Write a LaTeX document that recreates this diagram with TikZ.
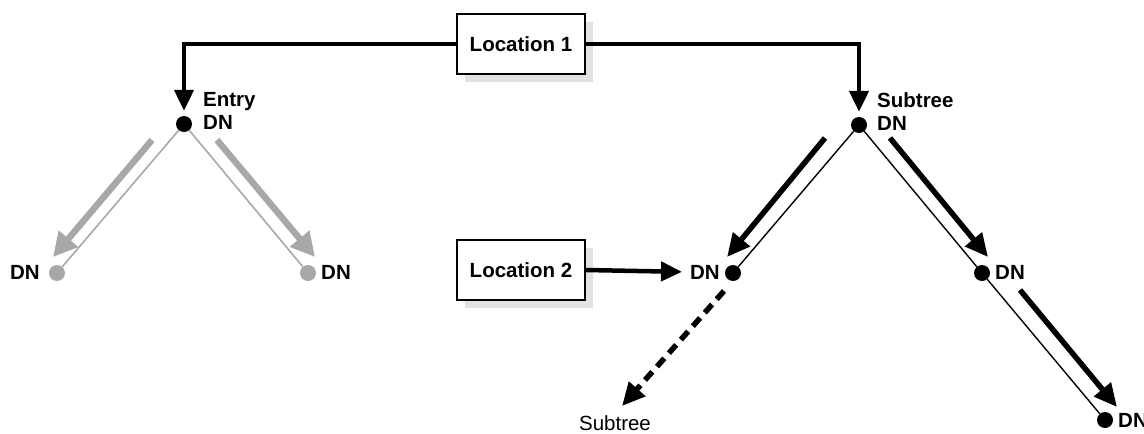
\documentclass[tikz,border=0pt]{standalone}
\usepackage{fontspec}
\setmainfont{Liberation Sans}
\usetikzlibrary{arrows.meta,shadows}
\definecolor{lgray}{HTML}{A8A8A8}
\definecolor{shadowgray}{HTML}{E2E2E2}
\tikzset{
  locbox/.style={draw, line width=2pt, fill=white, minimum width=128pt, minimum height=60pt,
    font=\fontsize{20.5}{23}\selectfont\bfseries,
    drop shadow={shadow xshift=8pt, shadow yshift=-8pt, fill=shadowgray, opacity=1}},
  dot/.style={circle, fill=black, inner sep=0pt, minimum size=16pt},
  gdot/.style={circle, fill=lgray, inner sep=0pt, minimum size=16pt},
  lbl/.style={inner sep=0pt, font=\fontsize{20.5}{23}\selectfont\bfseries, align=left},
  plainlbl/.style={inner sep=0pt, font=\fontsize{20.5}{23}\selectfont},
  conn/.style={line width=4.5pt, -{Triangle[length=21pt,width=19pt]}},
  thin/.style={line width=1.4pt},
  gthin/.style={line width=1.6pt, lgray},
  para/.style={line width=5.5pt, -{Triangle[length=23pt,width=21pt]}},
  gpara/.style={line width=6.5pt, lgray, -{Triangle[length=24pt,width=24pt]}},
  dashconn/.style={line width=5.5pt, dash pattern=on 11pt off 7pt, -{Triangle[length=23pt,width=21pt]}}
}
\begin{document}
\begin{tikzpicture}[x=1pt,y=-1pt]
\useasboundingbox (0,0) rectangle (1144,434);

% boxes
\node[locbox] (L1) at (521,44) {Location 1};
\node[locbox] (L2) at (521,270) {Location 2};

% dots
\node[dot] (entry) at (184,124) {};
\node[gdot] (gl) at (57,273) {};
\node[gdot] (gr) at (308,273) {};
\node[dot] (sub) at (859,125) {};
\node[dot] (rl) at (733,273) {};
\node[dot] (rr) at (982,273) {};
\node[dot] (rb) at (1105,420) {};

% labels
\node[lbl, anchor=west] (entrylbl) at (203,111) {Entry\\DN};
\node[lbl, anchor=east] (gllbl) at (40,272) {DN};
\node[lbl, anchor=west] (grlbl) at (321,272) {DN};
\node[lbl, anchor=west] (sublbl) at (877,112) {Subtree\\DN};
\node[lbl, anchor=east] (rllbl) at (720,272) {DN};
\node[lbl, anchor=west] (rrlbl) at (995,272) {DN};
\node[lbl, anchor=west] (rblbl) at (1118,420) {DN};
\node[plainlbl] (stlbl) at (615,423) {Subtree};

% top connectors
\draw[conn, shorten >=5pt] (L1.west) -| (entry);
\draw[conn, shorten >=5pt] (L1.east) -| (sub);
\draw[conn, shorten >=8pt] (L2.east) -- (rllbl.west);

% thin tree lines
\draw[gthin] (entry) -- (gl);
\draw[gthin] (entry) -- (gr);
\draw[thin] (sub) -- (rl);
\draw[thin] (sub) -- (rr);
\draw[thin] (rr) -- (rb);

% parallel arrows
\coordinate (g1s) at (152,140); \coordinate (g1e) at (53,257);
\coordinate (g2s) at (217,140); \coordinate (g2e) at (315,257);
\coordinate (b1s) at (825,138); \coordinate (b1e) at (727,257);
\coordinate (b2s) at (890,138); \coordinate (b2e) at (988,257);
\coordinate (b3s) at (1020,290); \coordinate (b3e) at (1117,407);
\draw[gpara] (g1s) -- (g1e);
\draw[gpara] (g2s) -- (g2e);
\draw[para] (b1s) -- (b1e);
\draw[para] (b2s) -- (b2e);
\draw[para] (b3s) -- (b3e);

% dashed arrow
\coordinate (ds) at (724,291);
\coordinate (de) at (622,406);
\draw[dashconn] (ds) -- (de);
\end{tikzpicture}
\end{document}
